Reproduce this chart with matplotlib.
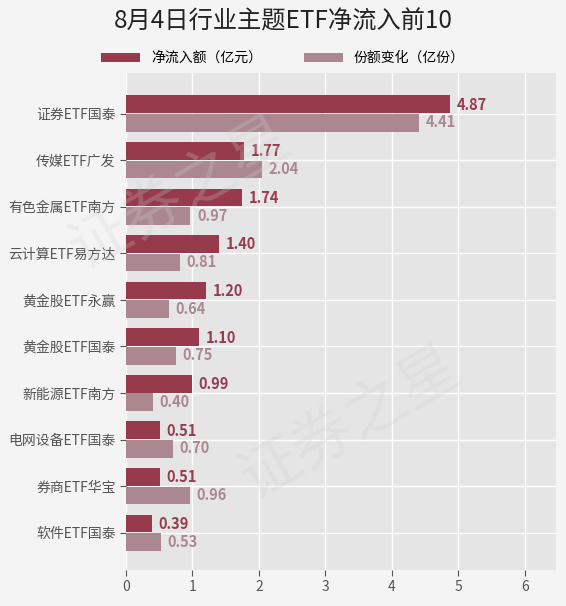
import matplotlib.pyplot as plt
import numpy as np

plt.rcParams['font.family'] = ['Noto Sans CJK SC', 'DejaVu Sans']

names = ['证券ETF国泰', '传媒ETF广发', '有色金属ETF南方', '云计算ETF易方达', '黄金股ETF永赢',
         '黄金股ETF国泰', '新能源ETF南方', '电网设备ETF国泰', '券商ETF华宝', '软件ETF国泰']
inflow = [4.87, 1.77, 1.74, 1.40, 1.20, 1.10, 0.99, 0.51, 0.51, 0.39]
shares = [4.41, 2.04, 0.97, 0.81, 0.64, 0.75, 0.40, 0.70, 0.96, 0.53]
legend_labels = ['净流入额（亿元）', '份额变化（亿份）']

c_dark = '#963a4c'
c_light = '#ab8790'

fig = plt.figure(figsize=(5.66, 6.06), dpi=100, facecolor='#f4f4f4')
ax = fig.add_axes([126 / 566, 1 - 570 / 606, 430 / 566, 497 / 606])
ax.set_facecolor('#e5e5e5')

# faint watermark, kept inside the figure
for (x, y) in [(0.32, 0.68), (0.62, 0.3)]:
    fig.text(x, y, '证券之星', fontsize=44, color='#d0d0d0', alpha=0.25, rotation=30,
             ha='center', va='center', zorder=0)

y = np.arange(len(names))[::-1] * 1.0
h = 0.38
b1 = ax.barh(y + h / 2 + 0.01, inflow, height=h, color=c_dark, zorder=3, label=legend_labels[0])
b2 = ax.barh(y - h / 2 - 0.01, shares, height=h, color=c_light, zorder=3, label=legend_labels[1])

for v, yy in zip(inflow, y + h / 2):
    ax.text(v + 0.1, yy, f'{v:.2f}', va='center', ha='left', color=c_dark,
            fontsize=10.5, fontweight='bold', zorder=4)
for v, yy in zip(shares, y - h / 2):
    ax.text(v + 0.1, yy, f'{v:.2f}', va='center', ha='left', color=c_light,
            fontsize=10.5, fontweight='bold', zorder=4)

ax.set_yticks(y)
ax.set_yticklabels(names, fontsize=10, color='#444444')
ax.set_xlim(0, 6.47)
ax.set_xticks(range(7))
ax.tick_params(axis='x', labelsize=10, colors='#555555', length=4)
ax.tick_params(axis='y', colors='#555555', length=4)
ax.set_ylim(-0.8, 9.87)
ax.grid(True, color='white', linewidth=1, zorder=1)
for s in ax.spines.values():
    s.set_visible(False)

fig.text(0.5, 1 - 22 / 606, '8月4日行业主题ETF净流入前10', ha='center', va='center',
         fontsize=17.5, color='#222222')
fig.legend(handles=[b1, b2], labels=legend_labels, loc='center', ncol=2,
           bbox_to_anchor=(0.5, 1 - 58 / 606), frameon=False, fontsize=10,
           handlelength=2.8, handleheight=0.6, columnspacing=3)

fig.savefig('out.png', dpi=100, facecolor=fig.get_facecolor())
